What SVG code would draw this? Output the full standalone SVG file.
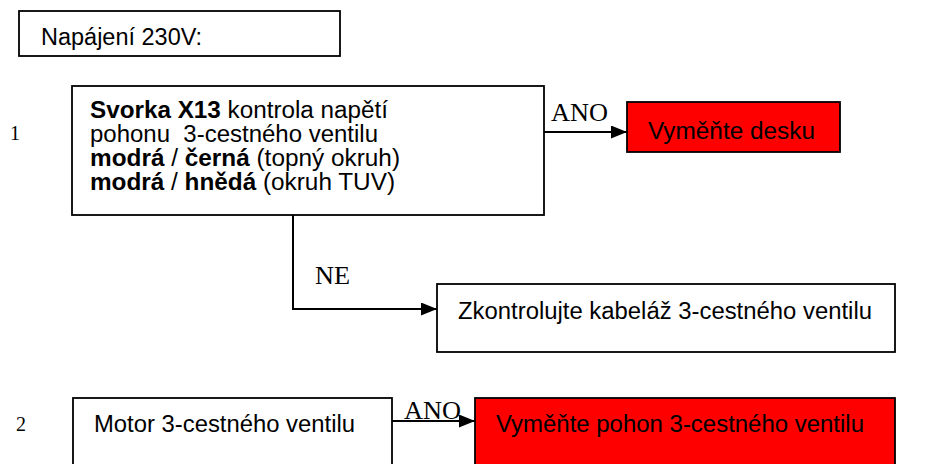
<svg xmlns="http://www.w3.org/2000/svg" width="927" height="464" viewBox="0 0 927 464">
<style>
.box{fill:#fff;stroke:#000;stroke-width:1.8}
.red{fill:#ff0000;stroke:#000;stroke-width:1.8}
.t{font-family:"Liberation Sans",Arial,sans-serif;font-size:23.5px;fill:#000}
.b{font-weight:bold}
.tm{font-family:"Liberation Serif","Times New Roman",serif;font-size:25px;fill:#000}
.num{font-family:"Liberation Serif","Times New Roman",serif;font-size:20px;fill:#000}
.c{fill:none;stroke:#000;stroke-width:2}
</style>
<defs>
<marker id="ah2" markerWidth="16" markerHeight="13" refX="16" refY="6.5" orient="auto" markerUnits="userSpaceOnUse" viewBox="0 0 16 13">
<path d="M0,0 L16,6.5 L0,13 Z" fill="#000"/>
</marker>
</defs>
<g id="n-power">
<rect class="box" x="19" y="11" width="321" height="45"/>
<text class="t" x="41" y="45" textLength="161" lengthAdjust="spacingAndGlyphs">Napájení 230V:</text>
</g>
<g id="label1"><text class="num" x="10" y="140">1</text></g>
<g id="n-x13">
<rect class="box" x="72" y="86" width="472" height="129"/>
<text class="t" x="90" y="118" textLength="298" lengthAdjust="spacingAndGlyphs"><tspan class="b">Svorka X13</tspan> kontrola napětí</text>
<text class="t" x="90" y="142" textLength="288" lengthAdjust="spacingAndGlyphs" xml:space="preserve">pohonu  3-cestného ventilu</text>
<text class="t" x="90" y="166" textLength="310" lengthAdjust="spacingAndGlyphs"><tspan class="b">modrá</tspan> / <tspan class="b">černá</tspan> (topný okruh)</text>
<text class="t" x="90" y="190" textLength="305" lengthAdjust="spacingAndGlyphs"><tspan class="b">modrá</tspan> / <tspan class="b">hnědá</tspan> (okruh TUV)</text>
</g>
<g id="n-desk">
<rect class="red" x="627" y="102" width="213" height="50"/>
<text class="t" x="648" y="139" textLength="167" lengthAdjust="spacingAndGlyphs">Vyměňte desku</text>
</g>
<g id="n-cable">
<rect class="box" x="437" y="284" width="458" height="68"/>
<text class="t" x="458" y="319" textLength="414" lengthAdjust="spacingAndGlyphs">Zkontrolujte kabeláž 3-cestného ventilu</text>
</g>
<g id="label2"><text class="num" x="16" y="431">2</text></g>
<g id="n-motor">
<rect class="box" x="73" y="398" width="319" height="80"/>
<text class="t" x="94" y="432" textLength="261" lengthAdjust="spacingAndGlyphs">Motor 3-cestného ventilu</text>
</g>
<g id="n-pohon">
<rect class="red" x="475" y="398" width="420" height="80"/>
<text class="t" x="496" y="432" textLength="368" lengthAdjust="spacingAndGlyphs">Vyměňte pohon 3-cestného ventilu</text>
</g>
<g id="connectors">
<path class="c" d="M544,132 L627,132" marker-end="url(#ah2)"/>
<text class="tm" x="551" y="121" textLength="57" lengthAdjust="spacingAndGlyphs">ANO</text>
<path class="c" d="M293,215 L293,309 L437,309" marker-end="url(#ah2)"/>
<text class="tm" x="315" y="284" textLength="35" lengthAdjust="spacingAndGlyphs">NE</text>
<path class="c" d="M392,421 L475,421" marker-end="url(#ah2)"/>
<text class="tm" x="404" y="419" textLength="57" lengthAdjust="spacingAndGlyphs">ANO</text>
</g>
</svg>
